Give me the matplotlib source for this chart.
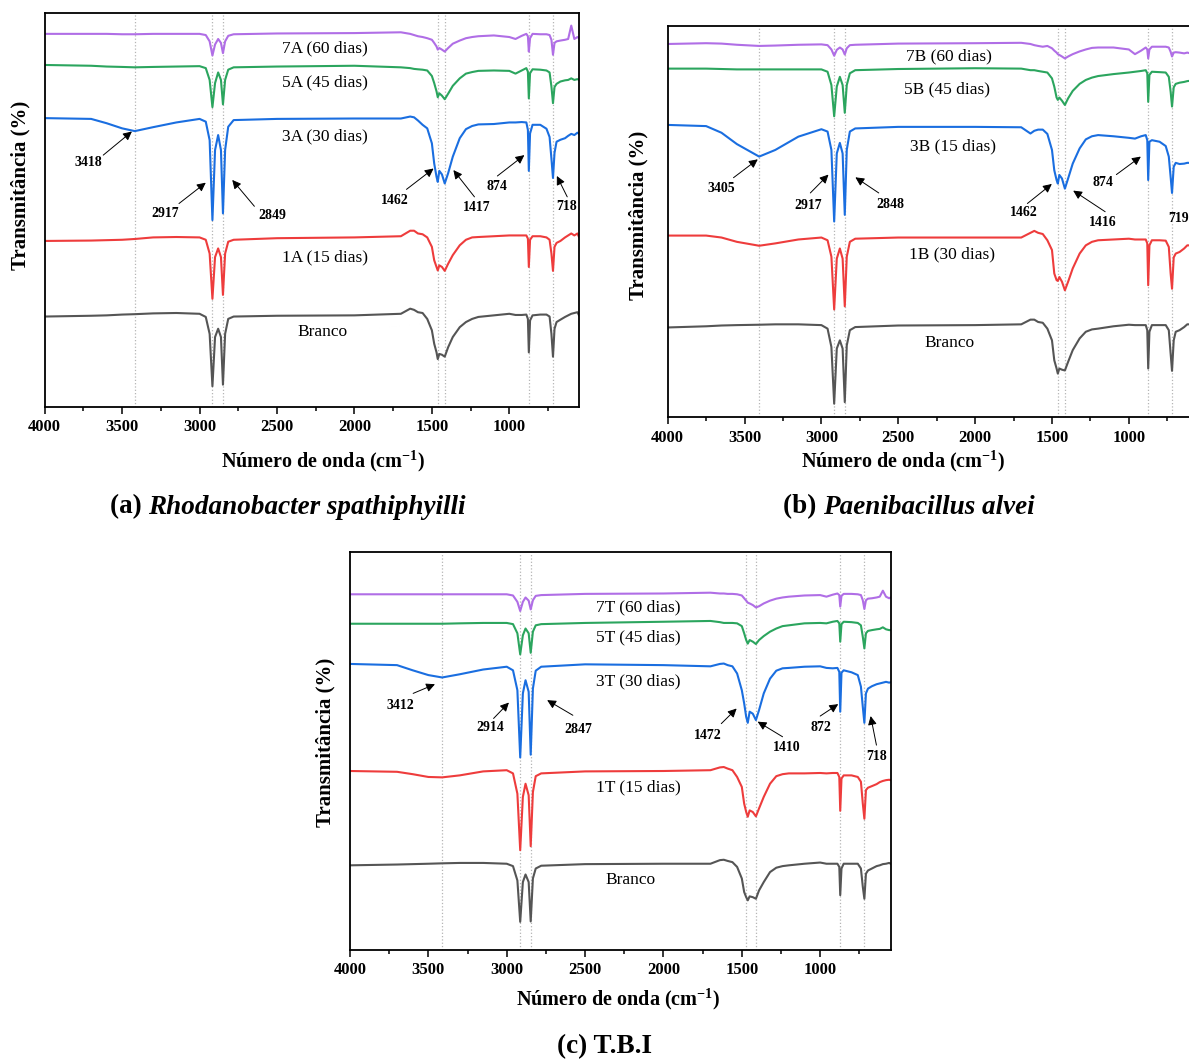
import matplotlib.pyplot as plt
from matplotlib.ticker import MultipleLocator

plt.rcParams['font.family'] = ['Liberation Serif', 'DejaVu Serif']
plt.rcParams['mathtext.fontset'] = 'custom'
plt.rcParams['mathtext.rm'] = 'Liberation Serif:bold'
plt.rcParams['mathtext.bf'] = 'Liberation Serif:bold'

# ---- panel (a) Rhodanobacter spathiphyilli ----
wn_a = [4000, 3700, 3600, 3500, 3418, 3300, 3150, 3000, 2960, 2935, 2917, 2900, 2880, 2862, 2849,
        2835, 2815, 2780, 2500, 2000, 1700, 1640, 1615, 1590, 1560, 1530, 1500, 1485, 1470, 1462,
        1452, 1435, 1417, 1395, 1365, 1320, 1280, 1240, 1200, 1100, 1000, 960, 920, 890, 880, 874,
        866, 850, 800, 760, 740, 728, 718, 708, 695, 670, 640, 620, 600, 580, 560, 550]
t7a = [94.7, 94.7, 94.7, 94.6, 94.6, 94.7, 94.7, 94.7, 94.4, 92.8, 89.2, 92.0, 93.4, 92.4, 89.8,
       92.8, 94.2, 94.6, 94.8, 94.9, 95.1, 94.7, 94.4, 94.1, 93.9, 93.6, 93.2, 92.4, 91.5, 90.7,
       91.1, 90.7, 90.2, 91.1, 92.2, 93.0, 93.6, 93.9, 94.1, 94.3, 93.9, 93.4, 94.2, 94.7, 94.1, 90.2,
       93.6, 94.7, 94.6, 94.6, 94.4, 93.2, 89.4, 92.4, 92.8, 93.0, 93.2, 93.4, 96.8, 93.4, 93.9, 93.6]
t5a = [86.8, 86.6, 86.4, 86.3, 86.2, 86.3, 86.4, 86.5, 86.0, 83.0, 76.1, 82.2, 84.9, 83.0, 76.8,
       83.0, 85.6, 86.2, 86.4, 86.6, 86.2, 86.0, 85.8, 85.7, 85.6, 85.4, 84.0, 82.2, 80.1, 78.6,
       79.6, 79.0, 78.1, 79.5, 81.5, 83.4, 84.6, 85.0, 85.3, 85.4, 85.3, 84.6, 85.4, 86.0, 85.1, 78.3,
       84.7, 85.7, 85.6, 85.4, 84.9, 81.3, 77.1, 81.2, 82.0, 82.6, 82.9, 83.0, 83.4, 83.0, 83.2, 83.0]
t3a = [73.3, 73.1, 72.0, 70.7, 70.0, 71.0, 72.2, 73.1, 72.4, 67.7, 47.4, 65.2, 69.0, 65.2, 49.1,
       65.2, 71.1, 72.8, 73.1, 73.2, 73.2, 73.7, 73.5, 72.7, 71.6, 70.7, 66.9, 61.8, 58.4, 57.1,
       59.9, 59.0, 56.7, 59.3, 63.5, 68.2, 70.5, 71.3, 71.7, 71.8, 72.2, 72.2, 72.3, 72.2, 70.3, 59.9,
       69.4, 71.6, 71.6, 70.6, 68.5, 63.0, 58.1, 64.5, 67.3, 67.8, 68.2, 68.8, 69.3, 69.0, 69.6, 69.3]
t1a = [42.1, 42.2, 42.3, 42.4, 42.6, 43.0, 43.1, 43.0, 42.4, 38.9, 27.4, 38.0, 40.2, 38.0, 28.4,
       38.9, 41.9, 42.4, 42.8, 43.0, 43.3, 44.7, 44.7, 44.0, 43.8, 43.0, 40.6, 37.2, 35.5, 34.6,
       35.9, 35.5, 34.5, 36.3, 38.5, 41.0, 42.4, 43.0, 43.1, 43.3, 43.5, 43.5, 43.5, 43.5, 42.7, 35.5,
       42.4, 43.3, 43.3, 43.0, 42.4, 38.9, 34.5, 40.6, 41.6, 42.1, 43.0, 43.5, 44.0, 43.5, 44.0, 43.1]
tba = [22.9, 23.1, 23.2, 23.4, 23.5, 23.7, 23.8, 23.6, 22.8, 18.5, 5.2, 17.7, 19.8, 17.7, 5.6,
       18.5, 22.3, 22.9, 23.1, 23.2, 23.6, 24.9, 24.6, 24.0, 23.8, 22.3, 19.4, 16.0, 13.8, 12.1,
       13.4, 13.2, 12.7, 15.1, 17.7, 20.2, 21.5, 22.3, 22.8, 23.2, 23.6, 23.3, 23.3, 23.4, 22.3, 13.8,
       21.9, 23.2, 23.4, 23.4, 22.9, 18.5, 12.7, 19.8, 21.5, 22.1, 22.8, 23.2, 23.6, 23.8, 24.0, 23.2]
names_a = ['7A (60 dias)', '5A (45 dias)', '3A (30 dias)', '1A (15 dias)', 'Branco']
peaks_a = [3418, 2917, 2849, 1462, 1417, 874, 718]

# ---- panel (b) Paenibacillus alvei ----
wn_b = [4000, 3750, 3650, 3550, 3405, 3300, 3150, 3000, 2960, 2935, 2917, 2900, 2880, 2862, 2848,
        2835, 2815, 2780, 2500, 2000, 1700, 1640, 1615, 1590, 1560, 1530, 1500, 1485, 1470, 1462,
        1452, 1435, 1416, 1395, 1365, 1320, 1280, 1240, 1200, 1100, 1000, 960, 920, 890, 880, 874,
        866, 850, 800, 760, 740, 728, 719, 708, 695, 670, 640, 620, 600, 580, 560, 550]
t7b = [95.4, 95.6, 95.5, 95.2, 94.9, 95.0, 95.2, 95.3, 95.1, 94.0, 92.4, 93.9, 94.5, 94.0, 92.7,
       94.3, 95.1, 95.2, 95.5, 95.6, 95.7, 95.4, 95.1, 94.9, 94.7, 94.9, 94.3, 93.7, 93.2, 92.8,
       92.6, 92.2, 91.7, 92.2, 92.8, 93.5, 94.0, 94.4, 94.5, 94.5, 94.0, 92.8, 93.7, 94.5, 94.0, 91.7,
       94.0, 94.7, 94.7, 94.7, 94.5, 93.4, 92.2, 93.2, 93.3, 93.2, 93.0, 93.2, 93.0, 93.0, 93.0, 93.0]
t5b = [89.1, 89.1, 89.0, 88.9, 88.9, 88.9, 88.9, 88.9, 88.3, 84.9, 76.9, 84.5, 87.0, 84.9, 77.8,
       84.9, 87.9, 88.7, 89.0, 89.2, 89.1, 88.7, 88.7, 88.5, 88.3, 88.1, 86.6, 84.5, 81.7, 81.1,
       81.7, 80.9, 79.8, 81.5, 83.4, 85.2, 86.2, 86.8, 87.2, 87.7, 88.1, 88.3, 88.5, 88.7, 87.9, 80.6,
       87.5, 88.3, 88.2, 88.1, 87.0, 83.2, 79.4, 84.3, 85.2, 85.5, 85.7, 85.9, 86.0, 86.0, 86.0, 86.0]
t3b = [74.7, 74.4, 72.7, 69.8, 66.6, 68.3, 71.7, 73.6, 73.0, 68.3, 50.0, 67.4, 70.1, 67.4, 51.7,
       68.3, 73.0, 73.8, 74.2, 74.2, 74.1, 72.5, 73.2, 73.5, 73.5, 72.4, 68.3, 63.1, 60.6, 59.7,
       61.9, 61.0, 58.4, 61.0, 64.8, 68.7, 71.0, 71.8, 72.1, 71.8, 71.4, 71.2, 71.8, 72.1, 70.8, 60.6,
       70.4, 70.8, 70.4, 69.3, 66.6, 61.4, 57.3, 64.0, 65.0, 64.7, 64.8, 65.0, 65.0, 65.0, 65.0, 65.0]
t1b = [46.4, 46.4, 45.9, 44.8, 43.8, 44.4, 45.4, 45.9, 45.2, 41.0, 27.5, 40.5, 43.1, 40.5, 28.3,
       41.0, 44.8, 45.6, 45.9, 45.9, 45.9, 47.1, 47.6, 47.1, 46.8, 45.2, 42.7, 36.7, 35.0, 34.8,
       35.8, 34.6, 32.4, 34.6, 38.0, 41.8, 43.9, 44.8, 45.2, 45.4, 45.6, 45.4, 45.4, 45.4, 44.4, 33.7,
       43.9, 45.2, 45.2, 45.1, 43.5, 36.7, 32.8, 40.8, 41.8, 42.2, 43.1, 43.9, 43.9, 43.9, 43.9, 43.9]
tbb = [22.9, 23.2, 23.4, 23.5, 23.6, 23.7, 23.7, 23.5, 22.6, 17.9, 3.4, 17.5, 19.6, 17.5, 3.8,
       18.3, 22.2, 23.0, 23.4, 23.5, 23.7, 24.9, 24.9, 24.3, 24.1, 22.6, 19.6, 14.5, 12.4, 11.1,
       12.4, 12.1, 11.9, 14.1, 17.1, 20.1, 21.8, 22.4, 22.6, 23.2, 23.6, 23.5, 23.5, 23.5, 22.2, 12.4,
       21.8, 23.5, 23.5, 23.5, 22.2, 16.2, 11.8, 19.6, 21.8, 22.2, 23.0, 23.7, 23.7, 23.7, 23.7, 23.7]
names_b = ['7B (60 dias)', '5B (45 dias)', '3B (15 dias)', '1B (30 dias)', 'Branco']
peaks_b = [3405, 2917, 2848, 1462, 1416, 874, 719]

# ---- panel (c) T.B.I ----
wn_c = [4000, 3700, 3600, 3500, 3412, 3300, 3150, 3000, 2960, 2932, 2914, 2897, 2880, 2860, 2847,
        2833, 2815, 2780, 2500, 2000, 1700, 1640, 1615, 1590, 1560, 1530, 1500, 1485, 1472, 1462,
        1450, 1430, 1410, 1390, 1360, 1320, 1280, 1240, 1200, 1100, 1000, 960, 920, 890, 878, 872,
        864, 850, 800, 760, 740, 728, 718, 708, 695, 670, 640, 620, 600, 580, 560, 550]
t7c = [89.3, 89.3, 89.3, 89.3, 89.3, 89.3, 89.3, 89.3, 89.0, 87.4, 85.1, 87.4, 88.5, 87.7, 85.5,
       87.8, 88.9, 89.1, 89.4, 89.5, 89.7, 89.5, 89.5, 89.4, 89.4, 89.3, 89.0, 88.3, 87.7, 87.2,
       87.0, 86.6, 86.0, 86.3, 87.0, 87.7, 88.2, 88.5, 88.7, 89.0, 89.1, 88.7, 89.2, 89.5, 89.1, 86.2,
       88.9, 89.4, 89.4, 89.3, 89.1, 87.8, 85.6, 87.8, 88.2, 88.3, 88.5, 88.7, 90.2, 88.7, 88.3, 88.5]
t5c = [81.9, 81.9, 81.9, 81.9, 81.9, 82.0, 82.1, 82.1, 81.8, 79.5, 74.2, 79.0, 80.7, 79.5, 74.6,
       79.9, 81.5, 81.8, 82.1, 82.4, 82.6, 82.3, 82.1, 82.1, 82.1, 82.0, 81.3, 79.5, 77.8, 76.9,
       77.8, 77.4, 76.8, 77.8, 78.8, 79.9, 80.7, 81.3, 81.5, 82.0, 82.1, 82.0, 82.4, 82.6, 82.0, 77.4,
       81.8, 82.4, 82.3, 82.1, 81.5, 78.6, 75.7, 79.5, 80.1, 80.3, 80.5, 80.6, 81.0, 80.5, 80.3, 80.3]
t3c = [71.8, 71.5, 70.2, 69.0, 68.4, 69.2, 70.4, 71.1, 70.2, 65.2, 48.3, 64.4, 67.7, 64.8, 49.0,
       65.6, 70.1, 71.1, 71.7, 71.5, 71.2, 71.8, 71.9, 71.5, 71.2, 69.4, 65.2, 61.9, 58.5, 57.0,
       59.8, 59.3, 57.7, 60.2, 64.4, 68.1, 70.1, 70.7, 70.8, 71.1, 71.2, 70.8, 70.7, 70.8, 69.8, 59.8,
       69.6, 70.2, 69.7, 69.0, 66.1, 61.0, 57.0, 64.4, 65.6, 66.2, 66.7, 66.9, 67.1, 67.3, 67.1, 67.2]
t1c = [44.9, 44.7, 44.1, 43.4, 43.3, 43.8, 44.8, 45.1, 44.3, 39.2, 25.0, 38.4, 41.7, 38.8, 26.0,
       39.6, 43.6, 44.3, 44.8, 44.9, 45.1, 45.8, 45.9, 45.5, 45.1, 43.4, 40.9, 36.7, 34.6, 33.4,
       35.0, 34.6, 33.5, 35.5, 38.4, 41.7, 43.6, 44.1, 44.3, 44.3, 44.4, 44.3, 44.4, 44.4, 43.4, 34.9,
       43.0, 43.8, 43.8, 43.4, 42.2, 36.7, 32.9, 40.1, 40.7, 41.1, 41.6, 42.1, 42.4, 42.6, 42.7, 42.6]
tbc = [21.2, 21.4, 21.5, 21.6, 21.7, 21.8, 21.8, 21.6, 21.0, 17.4, 7.0, 17.0, 18.9, 17.0, 7.1,
       17.9, 20.4, 21.1, 21.5, 21.6, 21.6, 22.5, 22.6, 22.3, 22.0, 20.8, 17.9, 14.5, 13.2, 12.4,
       13.4, 13.2, 12.8, 14.9, 17.0, 19.5, 20.6, 21.0, 21.2, 21.6, 21.9, 21.6, 21.6, 21.6, 20.8, 13.7,
       20.4, 21.6, 21.6, 21.6, 20.4, 15.8, 12.8, 19.1, 19.9, 20.4, 21.0, 21.2, 21.5, 21.6, 21.8, 21.6]
names_c = ['7T (60 dias)', '5T (45 dias)', '3T (30 dias)', '1T (15 dias)', 'Branco']
peaks_c = [3412, 2914, 2847, 1472, 1410, 872, 718]

colors = ['#b06ee6', '#2ba55e', '#1a6ee0', '#ee3c3c', '#555555']

# label placement: (x, y) and arrows (label, tx, ty, x0, y0, x1, y1)
label_pos_a = [(2189, 90.9), (2189, 82.4), (2189, 68.6), (2189, 38.0), (2205, 19.1)]
notes_a = [('3418', 3721, 62.0, 3622, 63.9, 3437, 69.9),
           ('2917', 3222, 49.1, 3133, 51.6, 2960, 56.9),
           ('2849', 2530, 48.6, 2646, 50.9, 2789, 57.6),
           ('1462', 1739, 52.4, 1664, 55.2, 1489, 60.5),
           ('1417', 1212, 50.6, 1225, 53.3, 1361, 60.1),
           ('874', 1081, 56.0, 1077, 58.6, 903, 63.9),
           ('718', 627, 50.8, 626, 53.3, 693, 58.6)]
label_pos_b = [(2168, 92.3), (2180, 83.9), (2143, 69.3), (2148, 41.6), (2168, 18.8)]
notes_b = [('3405', 3653, 58.4, 3572, 61.2, 3414, 65.9),
           ('2917', 3089, 54.0, 3072, 57.3, 2954, 62.0),
           ('2848', 2551, 54.4, 2627, 57.3, 2779, 61.3),
           ('1462', 1686, 52.3, 1660, 54.6, 1501, 59.6),
           ('1416', 1171, 49.7, 1154, 52.5, 1362, 57.9),
           ('874', 1171, 59.9, 1081, 62.0, 922, 66.6),
           ('719', 677, 50.8, None, None, None, None)]
label_pos_c = [(2160, 86.0), (2160, 78.5), (2160, 67.3), (2160, 40.7), (2212, 17.6)]
notes_c = [('3412', 3678, 61.4, 3597, 64.4, 3458, 66.7),
           ('2914', 3103, 55.8, 3084, 58.1, 2986, 62.1),
           ('2847', 2546, 55.4, 2578, 58.9, 2742, 62.7),
           ('1472', 1716, 53.9, 1631, 56.8, 1533, 60.6),
           ('1410', 1215, 50.8, 1240, 53.5, 1399, 57.3),
           ('872', 995, 55.8, 1000, 58.7, 885, 61.7),
           ('718', 641, 48.6, 641, 51.4, 678, 58.7)]


def draw_panel(ax, wn, series, names, label_pos, peaks, notes):
    for p in peaks:
        ax.axvline(p, color='#b5b5b5', ls=':', lw=0.9, zorder=0)
    for t, c in zip(series, colors):
        ax.plot(wn, t, color=c, lw=1.5)
    for name, (x, y) in zip(names, label_pos):
        ax.text(x, y, name, ha='center', va='center', fontsize=12.5)
    for lab, tx, ty, x0, y0, x1, y1 in notes:
        ax.text(tx, ty, lab, ha='center', va='center', fontsize=10, weight='bold')
        if x0 is not None:
            ax.annotate('', xy=(x1, y1), xytext=(x0, y0),
                        arrowprops=dict(arrowstyle='-|>', color='black', lw=0.7,
                                        mutation_scale=13, shrinkA=0, shrinkB=0))
    ax.set_xlim(4000, 550)
    ax.set_ylim(0, 100)
    ax.set_yticks([])
    ax.xaxis.set_major_locator(MultipleLocator(500))
    ax.xaxis.set_minor_locator(MultipleLocator(250))
    ax.tick_params(axis='x', which='major', direction='out', length=5, width=1.1,
                   labelsize=12, pad=4)
    ax.tick_params(axis='x', which='minor', direction='out', length=3, width=1.1)
    for lab in ax.get_xticklabels():
        lab.set_fontweight('bold')
    for s in ax.spines.values():
        s.set_linewidth(1.3)


fig = plt.figure(figsize=(11.89, 10.59), dpi=100)
W, H = 1189, 1059


def box(left, top, right, bottom):
    return [left / W, 1 - bottom / H, (right - left) / W, (bottom - top) / H]


ax_a = fig.add_axes(box(44.7, 13, 579, 406.7))
ax_b = fig.add_axes(box(667.7, 26, 1198, 417))
ax_c = fig.add_axes(box(350, 551.7, 890.7, 949.7))

draw_panel(ax_a, wn_a, [t7a, t5a, t3a, t1a, tba], names_a, label_pos_a, peaks_a, notes_a)
draw_panel(ax_b, wn_b, [t7b, t5b, t3b, t1b, tbb], names_b, label_pos_b, peaks_b, notes_b)
draw_panel(ax_c, wn_c, [t7c, t5c, t3c, t1c, tbc], names_c, label_pos_c, peaks_c, notes_c)

xlab = 'Número de onda (cm$^{\\mathbf{-1}}$)'
for xc, yc in [(323, 461), (903, 461), (618, 999)]:
    fig.text(xc / W, 1 - yc / H, xlab, ha='center', va='center', fontsize=14.5, weight='bold')
for xc, yc in [(20, 185), (638, 215), (325, 742)]:
    fig.text(xc / W, 1 - yc / H, 'Transmitância (%)', ha='center', va='center',
             rotation=90, fontsize=15, weight='bold')

# captions
for x0, tag, species in [(110, '(a) ', 'Rhodanobacter spathiphyilli'),
                         (783, '(b) ', 'Paenibacillus alvei')]:
    t1 = fig.text(x0 / W, 1 - 507 / H, tag, ha='left', va='center', fontsize=19.5, weight='bold')
    ax_c.annotate(species, xy=(1, 0.5), xycoords=t1, ha='left', va='center',
                  fontsize=19.5, weight='bold', style='italic', annotation_clip=False)
fig.text(557 / W, 1 - 1047 / H, '(c) T.B.I', ha='left', va='center', fontsize=19.5, weight='bold')

fig.savefig('out.png', dpi=100)
